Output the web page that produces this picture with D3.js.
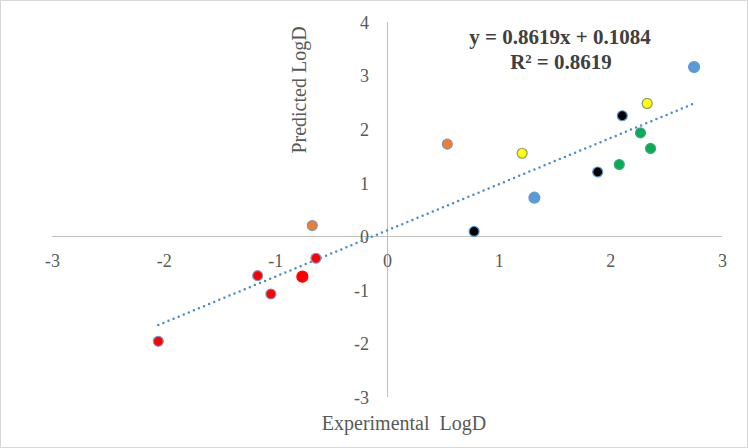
<!DOCTYPE html>
<html>
<head>
<meta charset="utf-8">
<script src="https://cdn.jsdelivr.net/npm/d3@7"></script>
<style>
html,body{margin:0;padding:0;background:#fff;}
svg{display:block;}
text{font-family:"Liberation Serif","Times New Roman",serif;}
</style>
</head>
<body>
<svg id="chart" width="748" height="448"></svg>
<script>
// ---- data ----
const experimental = [2.75, 2.33, 2.107, 2.27, 2.36, 0.54, 1.21, 2.08, 1.887, 1.32, 0.78, -0.669, -0.636, -1.158, -0.758, -1.04, -2.048];
const predicted    = [3.16, 2.48, 2.25, 1.93, 1.64, 1.72, 1.55, 1.34, 1.20, 0.72, 0.09, 0.20, -0.41, -0.735, -0.754, -1.077, -1.96];
const groups       = ["A", "B", "C", "D", "D", "E", "B", "D", "C", "A", "C", "E", "F", "F", "G", "F", "F"];
const xTicks = [-3, -2, -1, 0, 1, 2, 3];
const yTicks = [-3, -2, -1, 0, 1, 2, 3, 4];
const slope = 0.8619, intercept = 0.1084;
const equationLabel = "y = 0.8619x + 0.1084";
const r2Label = "R² = 0.8619";
const xTitle = "Experimental  LogD";
const yTitle = "Predicted LogD";

// ---- styles ----
const groupStyle = {
  A: {fill: "#5b9bd5", stroke: "#5b9bd5", r: 5.5},
  B: {fill: "#ffff00", stroke: "#7f9f7f", r: 5},
  C: {fill: "#000000", stroke: "#5b9bd5", r: 5},
  D: {fill: "#00b050", stroke: "#4f9f8f", r: 5},
  E: {fill: "#ed7d31", stroke: "#7f96b8", r: 5},
  F: {fill: "#ff0000", stroke: "#7f96c8", r: 5},
  G: {fill: "#ff0000", stroke: "#ff0000", r: 5.5}
};

const svg = d3.select("#chart");
svg.append("rect").attr("x",0.5).attr("y",0.5).attr("width",747).attr("height",447)
  .attr("fill","#fff").attr("stroke","#d9d9d9");

const x = d3.scaleLinear().domain([-3, 3]).range([52, 722]);
const y = d3.scaleLinear().domain([-3, 4]).range([397, 22]);

// axes lines through origin
const axisColor = "#bfbfbf";
svg.append("line").attr("x1", x(-3)).attr("x2", x(3)).attr("y1", Math.round(y(0))+0.5).attr("y2", Math.round(y(0))+0.5)
  .attr("stroke", axisColor).attr("stroke-width", 1);
svg.append("line").attr("x1", Math.round(x(0))+0.5).attr("x2", Math.round(x(0))+0.5).attr("y1", y(4)).attr("y2", y(-3))
  .attr("stroke", axisColor).attr("stroke-width", 1);

const fmt = d => String(d);

// x tick labels
const xAxis = d3.axisBottom(x).tickValues(xTicks).tickSize(0).tickPadding(0).tickFormat(fmt);
const gx = svg.append("g").attr("transform", `translate(0,${y(0)})`).call(xAxis);
gx.select(".domain").remove();
gx.selectAll("text").attr("dy", null).attr("y", 31)
  .attr("font-size", 18).attr("fill", "#595959").attr("font-family", "Liberation Serif, serif");

// y tick labels
const yAxis = d3.axisLeft(y).tickValues(yTicks).tickSize(0).tickPadding(0).tickFormat(fmt);
const gy = svg.append("g").attr("transform", `translate(${x(0)},0)`).call(yAxis);
gy.select(".domain").remove();
gy.selectAll("text").attr("x", -18).attr("dy", "0.35em")
  .attr("font-size", 18).attr("fill", "#595959").attr("font-family", "Liberation Serif, serif");

// trendline
const xs = d3.extent(experimental);
svg.append("line")
  .attr("x1", x(xs[0])).attr("y1", y(slope * xs[0] + intercept))
  .attr("x2", x(xs[1])).attr("y2", y(slope * xs[1] + intercept))
  .attr("stroke", "#4a8ccc").attr("stroke-width", 2.5)
  .attr("stroke-dasharray", "0 5.5").attr("stroke-linecap", "round");

// points
const pts = experimental.map((v, i) => ({x: v, y: predicted[i], g: groups[i]}));
svg.append("g").selectAll("circle").data(pts).join("circle")
  .attr("cx", d => x(d.x)).attr("cy", d => y(d.y))
  .attr("r", d => groupStyle[d.g].r)
  .attr("fill", d => groupStyle[d.g].fill)
  .attr("stroke", d => groupStyle[d.g].stroke)
  .attr("stroke-width", 1.2);

// equation
svg.append("text").attr("x", 560).attr("y", 44).attr("text-anchor", "middle")
  .attr("font-size", 21).attr("font-weight", "bold").attr("fill", "#404040").text(equationLabel);
svg.append("text").attr("x", 561).attr("y", 69).attr("text-anchor", "middle")
  .attr("font-size", 21).attr("font-weight", "bold").attr("fill", "#404040").text(r2Label);

// axis titles
svg.append("text").attr("x", 404).attr("y", 430).attr("text-anchor", "middle")
  .attr("font-size", 20).attr("fill", "#595959").attr("xml:space", "preserve").style("white-space", "pre").text(xTitle);
svg.append("text").attr("transform", "translate(306,90) rotate(-90)").attr("text-anchor", "middle")
  .attr("font-size", 20).attr("fill", "#595959").text(yTitle);
</script>
</body>
</html>
